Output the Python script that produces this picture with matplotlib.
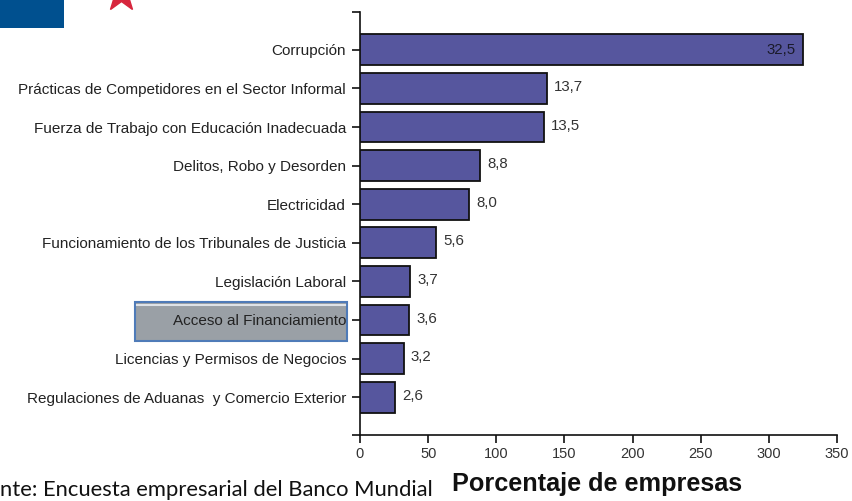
import numpy as np
import matplotlib
matplotlib.use("Agg")
import matplotlib.pyplot as plt
from matplotlib.patches import Rectangle
from matplotlib.lines import Line2D

# Obstaculos para las empresas (Encuesta empresarial del Banco Mundial)
obstaculos = [
    "Corrupción",
    "Prácticas de Competidores en el Sector Informal",
    "Fuerza de Trabajo con Educación Inadecuada",
    "Delitos, Robo y Desorden",
    "Electricidad",
    "Funcionamiento de los Tribunales de Justicia",
    "Legislación Laboral",
    "Acceso al Financiamiento",
    "Licencias y Permisos de Negocios",
    "Regulaciones de Aduanas  y Comercio Exterior",
]
porcentaje = [32.5, 13.7, 13.5, 8.8, 8.0, 5.6, 3.7, 3.6, 3.2, 2.6]
x_ticks = [0, 50, 100, 150, 200, 250, 300, 350]

# the original axis runs 0-350, bars are drawn at ten times the label
longitud = np.array(porcentaje) * 10

W, H = 852, 501
fig = plt.figure(figsize=(W / 100, H / 100), dpi=100)
plt.rcParams['font.family'] = ['Liberation Sans', 'DejaVu Sans']

ax = fig.add_axes([360 / W, 1 - 435 / H, (837 - 360) / W, (435 - 12) / H])

y = np.arange(len(obstaculos))
ax.barh(y, longitud, height=0.8, color="#56569e", edgecolor="#111111", linewidth=1.3, zorder=3)

for i, (v, l) in enumerate(zip(porcentaje, longitud)):
    txt = f"{v:.1f}".replace(".", ",")
    if i == 0:
        ax.annotate(txt, (l, i), xytext=(-5, 0), textcoords="offset points",
                    ha="right", va="center", fontsize=10.8, color="#1a1a2a", zorder=4)
    else:
        ax.annotate(txt, (l, i), xytext=(5, 1), textcoords="offset points",
                    ha="left", va="center", fontsize=10.8, color="#333333", zorder=4)

ax.set_xlim(0, 350)
ax.set_ylim(len(obstaculos) - 0.02, -0.98)
ax.set_yticks(y)
ax.set_yticklabels(obstaculos, fontsize=11, color="#222222")
ax.set_yticks([len(obstaculos) - 0.02, -0.98], minor=True)
ax.set_xticks(x_ticks)
ax.set_xticklabels([str(t) for t in x_ticks], fontsize=10.5, color="#333333")

for s in ["top", "right"]:
    ax.spines[s].set_visible(False)
for s in ["left", "bottom"]:
    ax.spines[s].set_linewidth(1.2)
    ax.spines[s].set_color("#111111")
ax.tick_params(axis="both", which="both", length=6, width=1.2, color="#111111")
ax.tick_params(axis="y", pad=4)
ax.tick_params(axis="x", pad=3)

# highlight box behind "Acceso al Financiamiento"
fig.patches.append(Rectangle((135 / W, 1 - 341 / H), (347 - 135) / W, (341 - 302) / H,
                             transform=fig.transFigure, facecolor="#9aa0a6",
                             edgecolor="#4f7bb8", linewidth=1.5, zorder=-1))
fig.lines.append(Line2D([137 / W, 345 / W], [1 - 305 / H, 1 - 305 / H],
                        transform=fig.transFigure, color="#dfe3e8", linewidth=1.5, zorder=-0.5))

# slide decorations
fig.patches.append(Rectangle((0, 1 - 28 / H), 64 / W, 28 / H, transform=fig.transFigure,
                             facecolor="#00508f", edgecolor="none", zorder=-1))
fig.lines.append(Line2D([121 / W], [1 + 6 / H], transform=fig.transFigure, marker="*",
                        markersize=26, color="#d7263d", linestyle="none"))

fig.text(0, 1 - 490 / H, "nte: Encuesta empresarial del Banco Mundial", fontsize=15.8,
         family=["Lato", "DejaVu Sans"], ha="left", va="center", color="#111111")
fig.text(452 / W, 1 - 484 / H, "Porcentaje de empresas", fontsize=18.2, fontweight="bold",
         ha="left", va="center", color="#111111")

fig.savefig("out.png", dpi=100)
